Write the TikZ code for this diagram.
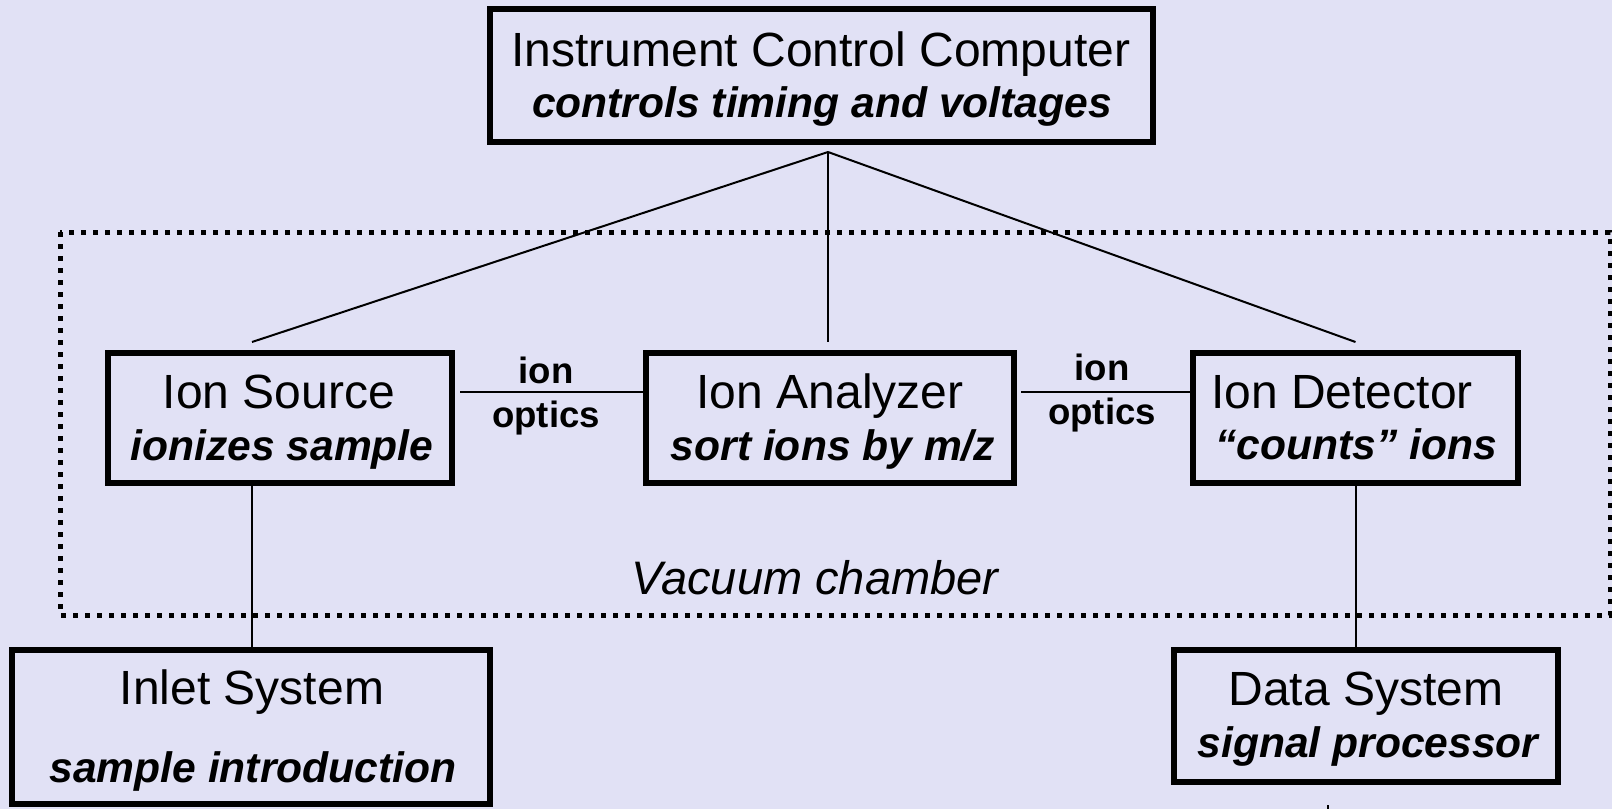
\documentclass[tikz,border=0pt]{standalone}
\usepackage{fontspec}
\setmainfont{Liberation Sans}
\definecolor{bgcol}{RGB}{225,225,245}
\newcommand{\mainf}{\fontsize{24}{28}\selectfont}
\newcommand{\subf}{\fontsize{21.3}{25}\selectfont\bfseries\itshape}
\newcommand{\optf}{\fontsize{18.3}{22}\selectfont\bfseries}
\tikzset{
  boxnode/.style={draw=black, line width=3pt, inner sep=0pt, outer sep=0pt},
  txt/.style={anchor=base, inner sep=0pt, font=\mainf},
  subtxt/.style={anchor=base, inner sep=0pt, font=\subf},
  opttxt/.style={anchor=base, inner sep=0pt, font=\optf},
  link/.style={draw=black, line width=1pt},
  chamber/.style={draw=black, line width=2.5pt, dash pattern=on 2.5pt off 3.5pt}
}
\begin{document}
\begin{tikzpicture}[x=0.5pt, y=-0.5pt]
\useasboundingbox (0,0) rectangle (1612,809);
\fill[bgcol] (0,0) rectangle (1612,809);

% vacuum chamber
\draw[chamber] (60,232) rectangle (1610,615);
\node[txt, font=\fontsize{23.5}{28}\selectfont\itshape] (vac) at (815,594) {Vacuum chamber};

% boxes
\node[boxnode, minimum width=331.5pt, minimum height=66.5pt] (top) at (821.5,75.5) {};
\node[boxnode, minimum width=172pt, minimum height=65pt] (src) at (280,418) {};
\node[boxnode, minimum width=184pt, minimum height=65pt] (ana) at (830,418) {};
\node[boxnode, minimum width=162.5pt, minimum height=65pt] (det) at (1355.5,418) {};
\node[boxnode, minimum width=239pt, minimum height=77pt] (inlet) at (251,727) {};
\node[boxnode, minimum width=192pt, minimum height=66pt] (data) at (1366,716) {};

% texts
\node[txt] (topA) at (821,66) {Instrument Control Computer};
\node[subtxt] (topB) at (822,117) {controls timing and voltages};
\node[txt] (srcA) at (279,408) {Ion Source};
\node[subtxt] (srcB) at (282,460) {ionizes sample};
\node[txt] (anaA) at (830,408) {Ion Analyzer};
\node[subtxt] (anaB) at (833,460) {sort ions by m/z};
\node[txt] (detA) at (1342,408) {Ion Detector};
\node[subtxt] (detB) at (1356,459) {“counts” ions};
\node[txt] (inA) at (252,704) {Inlet System};
\node[subtxt] (inB) at (253,782) {sample introduction};
\node[txt] (dataA) at (1366,705) {Data System};
\node[subtxt] (dataB) at (1368,757) {signal processor};
\node[opttxt] (ioA) at (546,383) {ion};
\node[opttxt] (ioB) at (546,427) {optics};
\node[opttxt] (io2A) at (1102,380) {ion};
\node[opttxt] (io2B) at (1102,424) {optics};

% connectors
\coordinate (apex) at ([xshift=3.25pt,yshift=-5pt]top.south);
\draw[link] (apex) -- ([xshift=-14pt,yshift=5.5pt]src.north);
\draw[link] (apex) -- ([xshift=-1pt,yshift=5.5pt]ana.north);
\draw[link] (apex) -- ([yshift=5.5pt]det.north);
\draw[link] ([xshift=4pt,yshift=13pt]src.east) -- ([yshift=13pt]ana.west);
\draw[link] ([xshift=3.5pt,yshift=13pt]ana.east) -- ([yshift=13pt]det.west);
\draw[link] ([xshift=-14pt]src.south) -- ([xshift=-14pt]src.south |- inlet.north);
\draw[link] (det.south) -- (det.south |- data.north);
\coordinate (tickA) at (1328,805);
\coordinate (tickB) at (1328,809);
\draw[link] (tickA) -- (tickB);
\end{tikzpicture}
\end{document}
